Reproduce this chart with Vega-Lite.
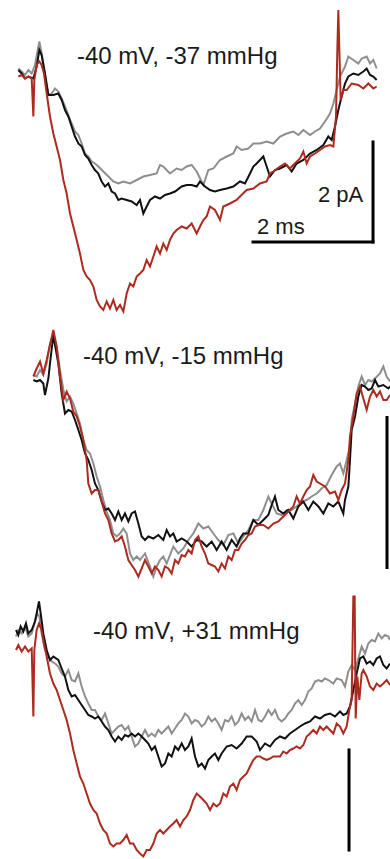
{
"$schema":"https://vega.github.io/schema/vega-lite/v6.json",
"padding":0,"spacing":0,"background":"white",
"config":{"view":{"stroke":null},"concat":{"spacing":0}},
"resolve":{"scale":{"x":"independent","y":"independent"}},
"datasets":{
"p1":[
{"t":0.306,"i":0.07,"k":"s1"},{"t":0.361,"i":0.01,"k":"s1"},{"t":0.417,"i":-0.06,"k":"s1"},{"t":0.472,"i":0.04,"k":"s1"},{"t":0.528,"i":-0.03,"k":"s1"},{"t":0.583,"i":0.14,"k":"s1"},{"t":0.656,"i":0.61,"k":"s1"},{"t":0.694,"i":0.37,"k":"s1"},{"t":0.75,"i":-0.09,"k":"s1"},{"t":0.806,"i":-0.46,"k":"s1"},{"t":0.861,"i":-0.43,"k":"s1"},{"t":0.917,"i":-0.33,"k":"s1"},{"t":0.972,"i":-0.39,"k":"s1"},{"t":1.028,"i":-0.53,"k":"s1"},{"t":1.083,"i":-0.69,"k":"s1"},{"t":1.139,"i":-0.86,"k":"s1"},{"t":1.194,"i":-1.03,"k":"s1"},{"t":1.25,"i":-1.19,"k":"s1"},{"t":1.306,"i":-1.26,"k":"s1"},{"t":1.361,"i":-1.43,"k":"s1"},{"t":1.417,"i":-1.63,"k":"s1"},{"t":1.472,"i":-1.69,"k":"s1"},{"t":1.528,"i":-1.79,"k":"s1"},{"t":1.583,"i":-1.83,"k":"s1"},{"t":1.639,"i":-1.89,"k":"s1"},{"t":1.722,"i":-1.99,"k":"s1"},{"t":1.806,"i":-2.09,"k":"s1"},{"t":1.889,"i":-2.19,"k":"s1"},{"t":1.972,"i":-2.23,"k":"s1"},{"t":2.056,"i":-2.19,"k":"s1"},{"t":2.167,"i":-2.23,"k":"s1"},{"t":2.278,"i":-2.16,"k":"s1"},{"t":2.389,"i":-2.09,"k":"s1"},{"t":2.5,"i":-2.06,"k":"s1"},{"t":2.611,"i":-2.03,"k":"s1"},{"t":2.667,"i":-1.86,"k":"s1"},{"t":2.722,"i":-1.89,"k":"s1"},{"t":2.833,"i":-2.03,"k":"s1"},{"t":2.944,"i":-1.93,"k":"s1"},{"t":3.028,"i":-1.96,"k":"s1"},{"t":3.111,"i":-1.89,"k":"s1"},{"t":3.194,"i":-1.86,"k":"s1"},{"t":3.278,"i":-1.99,"k":"s1"},{"t":3.389,"i":-2.26,"k":"s1"},{"t":3.472,"i":-1.96,"k":"s1"},{"t":3.556,"i":-1.93,"k":"s1"},{"t":3.667,"i":-1.76,"k":"s1"},{"t":3.778,"i":-1.69,"k":"s1"},{"t":3.889,"i":-1.63,"k":"s1"},{"t":3.944,"i":-1.49,"k":"s1"},{"t":4.028,"i":-1.56,"k":"s1"},{"t":4.139,"i":-1.53,"k":"s1"},{"t":4.222,"i":-1.43,"k":"s1"},{"t":4.333,"i":-1.43,"k":"s1"},{"t":4.444,"i":-1.39,"k":"s1"},{"t":4.556,"i":-1.43,"k":"s1"},{"t":4.667,"i":-1.29,"k":"s1"},{"t":4.778,"i":-1.23,"k":"s1"},{"t":4.889,"i":-1.19,"k":"s1"},{"t":4.972,"i":-1.26,"k":"s1"},{"t":5.056,"i":-1.16,"k":"s1"},{"t":5.167,"i":-1.26,"k":"s1"},{"t":5.25,"i":-1.19,"k":"s1"},{"t":5.333,"i":-1.13,"k":"s1"},{"t":5.417,"i":-0.99,"k":"s1"},{"t":5.5,"i":-0.83,"k":"s1"},{"t":5.556,"i":-0.63,"k":"s1"},{"t":5.611,"i":-0.36,"k":"s1"},{"t":5.667,"i":-0.09,"k":"s1"},{"t":5.75,"i":0.11,"k":"s1"},{"t":5.806,"i":0.31,"k":"s1"},{"t":5.889,"i":0.24,"k":"s1"},{"t":5.972,"i":0.17,"k":"s1"},{"t":6.028,"i":0.27,"k":"s1"},{"t":6.111,"i":0.31,"k":"s1"},{"t":6.167,"i":0.17,"k":"s1"},{"t":6.222,"i":0.24,"k":"s1"},{"t":6.278,"i":0.07,"k":"s1"},
{"t":0.306,"i":0.04,"k":"s2"},{"t":0.361,"i":-0.03,"k":"s2"},{"t":0.417,"i":-0.13,"k":"s2"},{"t":0.472,"i":-0.09,"k":"s2"},{"t":0.556,"i":-0.13,"k":"s2"},{"t":0.611,"i":0.11,"k":"s2"},{"t":0.656,"i":0.44,"k":"s2"},{"t":0.694,"i":0.34,"k":"s2"},{"t":0.75,"i":-0.03,"k":"s2"},{"t":0.806,"i":-0.46,"k":"s2"},{"t":0.889,"i":-0.46,"k":"s2"},{"t":0.972,"i":-0.43,"k":"s2"},{"t":1.028,"i":-0.56,"k":"s2"},{"t":1.083,"i":-0.76,"k":"s2"},{"t":1.139,"i":-0.89,"k":"s2"},{"t":1.194,"i":-1.09,"k":"s2"},{"t":1.25,"i":-1.29,"k":"s2"},{"t":1.306,"i":-1.43,"k":"s2"},{"t":1.361,"i":-1.49,"k":"s2"},{"t":1.417,"i":-1.66,"k":"s2"},{"t":1.472,"i":-1.73,"k":"s2"},{"t":1.528,"i":-1.86,"k":"s2"},{"t":1.583,"i":-1.96,"k":"s2"},{"t":1.639,"i":-2.03,"k":"s2"},{"t":1.694,"i":-2.19,"k":"s2"},{"t":1.75,"i":-2.29,"k":"s2"},{"t":1.806,"i":-2.23,"k":"s2"},{"t":1.861,"i":-2.39,"k":"s2"},{"t":1.917,"i":-2.43,"k":"s2"},{"t":1.972,"i":-2.56,"k":"s2"},{"t":2.028,"i":-2.53,"k":"s2"},{"t":2.111,"i":-2.56,"k":"s2"},{"t":2.194,"i":-2.59,"k":"s2"},{"t":2.278,"i":-2.66,"k":"s2"},{"t":2.333,"i":-2.56,"k":"s2"},{"t":2.389,"i":-2.83,"k":"s2"},{"t":2.444,"i":-2.69,"k":"s2"},{"t":2.5,"i":-2.56,"k":"s2"},{"t":2.583,"i":-2.49,"k":"s2"},{"t":2.667,"i":-2.53,"k":"s2"},{"t":2.75,"i":-2.46,"k":"s2"},{"t":2.833,"i":-2.43,"k":"s2"},{"t":2.917,"i":-2.39,"k":"s2"},{"t":3.028,"i":-2.29,"k":"s2"},{"t":3.111,"i":-2.26,"k":"s2"},{"t":3.194,"i":-2.26,"k":"s2"},{"t":3.278,"i":-2.29,"k":"s2"},{"t":3.333,"i":-2.19,"k":"s2"},{"t":3.417,"i":-2.29,"k":"s2"},{"t":3.5,"i":-2.36,"k":"s2"},{"t":3.583,"i":-2.39,"k":"s2"},{"t":3.667,"i":-2.36,"k":"s2"},{"t":3.778,"i":-2.33,"k":"s2"},{"t":3.889,"i":-2.29,"k":"s2"},{"t":4.0,"i":-2.19,"k":"s2"},{"t":4.083,"i":-2.23,"k":"s2"},{"t":4.167,"i":-2.03,"k":"s2"},{"t":4.222,"i":-1.89,"k":"s2"},{"t":4.278,"i":-1.83,"k":"s2"},{"t":4.333,"i":-1.76,"k":"s2"},{"t":4.389,"i":-1.69,"k":"s2"},{"t":4.444,"i":-1.89,"k":"s2"},{"t":4.5,"i":-2.09,"k":"s2"},{"t":4.583,"i":-1.96,"k":"s2"},{"t":4.667,"i":-1.93,"k":"s2"},{"t":4.778,"i":-1.86,"k":"s2"},{"t":4.861,"i":-1.99,"k":"s2"},{"t":4.944,"i":-1.83,"k":"s2"},{"t":5.056,"i":-1.76,"k":"s2"},{"t":5.167,"i":-1.63,"k":"s2"},{"t":5.278,"i":-1.56,"k":"s2"},{"t":5.389,"i":-1.46,"k":"s2"},{"t":5.472,"i":-1.29,"k":"s2"},{"t":5.528,"i":-1.36,"k":"s2"},{"t":5.583,"i":-1.09,"k":"s2"},{"t":5.639,"i":-0.76,"k":"s2"},{"t":5.694,"i":-0.49,"k":"s2"},{"t":5.75,"i":-0.23,"k":"s2"},{"t":5.806,"i":-0.09,"k":"s2"},{"t":5.889,"i":-0.03,"k":"s2"},{"t":5.972,"i":-0.06,"k":"s2"},{"t":6.056,"i":0.01,"k":"s2"},{"t":6.111,"i":0.07,"k":"s2"},{"t":6.167,"i":-0.06,"k":"s2"},{"t":6.222,"i":-0.09,"k":"s2"},{"t":6.278,"i":-0.16,"k":"s2"},
{"t":0.306,"i":-0.09,"k":"s3"},{"t":0.361,"i":-0.06,"k":"s3"},{"t":0.417,"i":-0.13,"k":"s3"},{"t":0.472,"i":-0.09,"k":"s3"},{"t":0.528,"i":-0.13,"k":"s3"},{"t":0.556,"i":-0.89,"k":"s3"},{"t":0.572,"i":-0.16,"k":"s3"},{"t":0.611,"i":0.14,"k":"s3"},{"t":0.656,"i":0.21,"k":"s3"},{"t":0.694,"i":0.14,"k":"s3"},{"t":0.733,"i":-0.03,"k":"s3"},{"t":0.778,"i":-0.43,"k":"s3"},{"t":0.833,"i":-0.89,"k":"s3"},{"t":0.889,"i":-1.23,"k":"s3"},{"t":0.944,"i":-1.49,"k":"s3"},{"t":1.0,"i":-1.76,"k":"s3"},{"t":1.056,"i":-2.16,"k":"s3"},{"t":1.111,"i":-2.43,"k":"s3"},{"t":1.167,"i":-2.83,"k":"s3"},{"t":1.222,"i":-3.09,"k":"s3"},{"t":1.278,"i":-3.36,"k":"s3"},{"t":1.333,"i":-3.63,"k":"s3"},{"t":1.389,"i":-3.96,"k":"s3"},{"t":1.444,"i":-4.09,"k":"s3"},{"t":1.5,"i":-4.16,"k":"s3"},{"t":1.556,"i":-4.29,"k":"s3"},{"t":1.611,"i":-4.56,"k":"s3"},{"t":1.667,"i":-4.69,"k":"s3"},{"t":1.722,"i":-4.76,"k":"s3"},{"t":1.778,"i":-4.59,"k":"s3"},{"t":1.833,"i":-4.73,"k":"s3"},{"t":1.889,"i":-4.56,"k":"s3"},{"t":1.944,"i":-4.76,"k":"s3"},{"t":2.0,"i":-4.66,"k":"s3"},{"t":2.056,"i":-4.79,"k":"s3"},{"t":2.111,"i":-4.43,"k":"s3"},{"t":2.167,"i":-4.23,"k":"s3"},{"t":2.222,"i":-4.29,"k":"s3"},{"t":2.278,"i":-4.09,"k":"s3"},{"t":2.333,"i":-4.03,"k":"s3"},{"t":2.389,"i":-3.96,"k":"s3"},{"t":2.444,"i":-3.76,"k":"s3"},{"t":2.5,"i":-3.89,"k":"s3"},{"t":2.556,"i":-3.69,"k":"s3"},{"t":2.611,"i":-3.49,"k":"s3"},{"t":2.667,"i":-3.63,"k":"s3"},{"t":2.722,"i":-3.43,"k":"s3"},{"t":2.778,"i":-3.56,"k":"s3"},{"t":2.833,"i":-3.36,"k":"s3"},{"t":2.889,"i":-3.23,"k":"s3"},{"t":2.944,"i":-3.16,"k":"s3"},{"t":3.028,"i":-3.09,"k":"s3"},{"t":3.111,"i":-3.13,"k":"s3"},{"t":3.194,"i":-3.03,"k":"s3"},{"t":3.278,"i":-3.23,"k":"s3"},{"t":3.333,"i":-3.09,"k":"s3"},{"t":3.389,"i":-2.96,"k":"s3"},{"t":3.444,"i":-2.89,"k":"s3"},{"t":3.5,"i":-2.69,"k":"s3"},{"t":3.583,"i":-2.76,"k":"s3"},{"t":3.667,"i":-2.96,"k":"s3"},{"t":3.722,"i":-2.69,"k":"s3"},{"t":3.833,"i":-2.63,"k":"s3"},{"t":3.944,"i":-2.56,"k":"s3"},{"t":4.0,"i":-2.49,"k":"s3"},{"t":4.111,"i":-2.36,"k":"s3"},{"t":4.222,"i":-2.33,"k":"s3"},{"t":4.333,"i":-2.23,"k":"s3"},{"t":4.444,"i":-2.19,"k":"s3"},{"t":4.5,"i":-2.03,"k":"s3"},{"t":4.556,"i":-1.99,"k":"s3"},{"t":4.667,"i":-1.89,"k":"s3"},{"t":4.75,"i":-1.83,"k":"s3"},{"t":4.833,"i":-1.93,"k":"s3"},{"t":4.889,"i":-1.86,"k":"s3"},{"t":5.0,"i":-1.73,"k":"s3"},{"t":5.056,"i":-1.59,"k":"s3"},{"t":5.111,"i":-1.83,"k":"s3"},{"t":5.167,"i":-1.69,"k":"s3"},{"t":5.25,"i":-1.63,"k":"s3"},{"t":5.333,"i":-1.56,"k":"s3"},{"t":5.417,"i":-1.49,"k":"s3"},{"t":5.5,"i":-1.46,"k":"s3"},{"t":5.556,"i":-1.49,"k":"s3"},{"t":5.6,"i":-0.89,"k":"s3"},{"t":5.622,"i":0.44,"k":"s3"},{"t":5.639,"i":1.24,"k":"s3"},{"t":5.656,"i":0.44,"k":"s3"},{"t":5.678,"i":-0.56,"k":"s3"},{"t":5.722,"i":-0.36,"k":"s3"},{"t":5.778,"i":-0.36,"k":"s3"},{"t":5.861,"i":-0.23,"k":"s3"},{"t":5.972,"i":-0.26,"k":"s3"},{"t":6.056,"i":-0.33,"k":"s3"},{"t":6.139,"i":-0.23,"k":"s3"},{"t":6.222,"i":-0.33,"k":"s3"},{"t":6.278,"i":-0.29,"k":"s3"}
],
"p2":[
{"t":0.556,"i":0.1,"k":"s1"},{"t":0.611,"i":0.07,"k":"s1"},{"t":0.667,"i":0.2,"k":"s1"},{"t":0.722,"i":0.1,"k":"s1"},{"t":0.778,"i":0.33,"k":"s1"},{"t":0.833,"i":0.73,"k":"s1"},{"t":0.889,"i":0.9,"k":"s1"},{"t":0.944,"i":0.67,"k":"s1"},{"t":1.0,"i":0.2,"k":"s1"},{"t":1.056,"i":-0.2,"k":"s1"},{"t":1.111,"i":-0.43,"k":"s1"},{"t":1.167,"i":-0.33,"k":"s1"},{"t":1.222,"i":-0.47,"k":"s1"},{"t":1.278,"i":-0.67,"k":"s1"},{"t":1.333,"i":-0.87,"k":"s1"},{"t":1.389,"i":-1.2,"k":"s1"},{"t":1.444,"i":-1.4,"k":"s1"},{"t":1.5,"i":-1.47,"k":"s1"},{"t":1.556,"i":-1.67,"k":"s1"},{"t":1.611,"i":-1.93,"k":"s1"},{"t":1.667,"i":-2.13,"k":"s1"},{"t":1.722,"i":-2.4,"k":"s1"},{"t":1.778,"i":-2.63,"k":"s1"},{"t":1.833,"i":-2.8,"k":"s1"},{"t":1.889,"i":-3.07,"k":"s1"},{"t":1.944,"i":-3.13,"k":"s1"},{"t":2.0,"i":-3.07,"k":"s1"},{"t":2.056,"i":-2.97,"k":"s1"},{"t":2.111,"i":-3.07,"k":"s1"},{"t":2.167,"i":-3.47,"k":"s1"},{"t":2.222,"i":-3.6,"k":"s1"},{"t":2.278,"i":-3.53,"k":"s1"},{"t":2.333,"i":-3.6,"k":"s1"},{"t":2.417,"i":-3.47,"k":"s1"},{"t":2.5,"i":-3.73,"k":"s1"},{"t":2.556,"i":-3.93,"k":"s1"},{"t":2.611,"i":-3.73,"k":"s1"},{"t":2.667,"i":-3.6,"k":"s1"},{"t":2.722,"i":-3.53,"k":"s1"},{"t":2.778,"i":-3.67,"k":"s1"},{"t":2.833,"i":-3.5,"k":"s1"},{"t":2.889,"i":-3.33,"k":"s1"},{"t":2.972,"i":-3.47,"k":"s1"},{"t":3.056,"i":-3.37,"k":"s1"},{"t":3.139,"i":-3.2,"k":"s1"},{"t":3.222,"i":-3.07,"k":"s1"},{"t":3.306,"i":-2.87,"k":"s1"},{"t":3.389,"i":-2.97,"k":"s1"},{"t":3.472,"i":-2.93,"k":"s1"},{"t":3.556,"i":-3.07,"k":"s1"},{"t":3.639,"i":-3.2,"k":"s1"},{"t":3.722,"i":-3.3,"k":"s1"},{"t":3.806,"i":-3.1,"k":"s1"},{"t":3.889,"i":-3.07,"k":"s1"},{"t":3.972,"i":-3.27,"k":"s1"},{"t":4.056,"i":-3.13,"k":"s1"},{"t":4.139,"i":-3.0,"k":"s1"},{"t":4.222,"i":-2.8,"k":"s1"},{"t":4.306,"i":-2.8,"k":"s1"},{"t":4.389,"i":-2.6,"k":"s1"},{"t":4.472,"i":-2.33,"k":"s1"},{"t":4.528,"i":-2.47,"k":"s1"},{"t":4.611,"i":-2.67,"k":"s1"},{"t":4.694,"i":-2.7,"k":"s1"},{"t":4.778,"i":-2.6,"k":"s1"},{"t":4.861,"i":-2.6,"k":"s1"},{"t":4.944,"i":-2.53,"k":"s1"},{"t":5.028,"i":-2.43,"k":"s1"},{"t":5.111,"i":-2.4,"k":"s1"},{"t":5.194,"i":-2.33,"k":"s1"},{"t":5.278,"i":-2.27,"k":"s1"},{"t":5.361,"i":-2.17,"k":"s1"},{"t":5.444,"i":-2.1,"k":"s1"},{"t":5.528,"i":-1.9,"k":"s1"},{"t":5.611,"i":-1.73,"k":"s1"},{"t":5.667,"i":-1.67,"k":"s1"},{"t":5.722,"i":-1.87,"k":"s1"},{"t":5.778,"i":-1.6,"k":"s1"},{"t":5.833,"i":-1.33,"k":"s1"},{"t":5.861,"i":-0.8,"k":"s1"},{"t":5.917,"i":-0.47,"k":"s1"},{"t":5.972,"i":-0.13,"k":"s1"},{"t":6.028,"i":0.07,"k":"s1"},{"t":6.083,"i":-0.1,"k":"s1"},{"t":6.139,"i":0.0,"k":"s1"},{"t":6.194,"i":-0.03,"k":"s1"},{"t":6.25,"i":0.03,"k":"s1"},{"t":6.333,"i":0.13,"k":"s1"},{"t":6.389,"i":0.27,"k":"s1"},{"t":6.444,"i":0.07,"k":"s1"},{"t":6.5,"i":-0.03,"k":"s1"},
{"t":0.556,"i":0.0,"k":"s2"},{"t":0.611,"i":-0.03,"k":"s2"},{"t":0.667,"i":0.0,"k":"s2"},{"t":0.722,"i":-0.07,"k":"s2"},{"t":0.75,"i":-0.3,"k":"s2"},{"t":0.778,"i":-0.13,"k":"s2"},{"t":0.806,"i":0.03,"k":"s2"},{"t":0.833,"i":0.33,"k":"s2"},{"t":0.889,"i":0.9,"k":"s2"},{"t":0.917,"i":0.7,"k":"s2"},{"t":0.972,"i":0.33,"k":"s2"},{"t":1.028,"i":-0.27,"k":"s2"},{"t":1.083,"i":-0.67,"k":"s2"},{"t":1.139,"i":-0.6,"k":"s2"},{"t":1.194,"i":-0.63,"k":"s2"},{"t":1.25,"i":-0.8,"k":"s2"},{"t":1.306,"i":-1.0,"k":"s2"},{"t":1.361,"i":-1.2,"k":"s2"},{"t":1.417,"i":-1.47,"k":"s2"},{"t":1.472,"i":-1.6,"k":"s2"},{"t":1.528,"i":-1.8,"k":"s2"},{"t":1.583,"i":-2.07,"k":"s2"},{"t":1.639,"i":-2.2,"k":"s2"},{"t":1.694,"i":-2.43,"k":"s2"},{"t":1.75,"i":-2.6,"k":"s2"},{"t":1.806,"i":-2.57,"k":"s2"},{"t":1.861,"i":-2.67,"k":"s2"},{"t":1.917,"i":-2.8,"k":"s2"},{"t":1.972,"i":-2.63,"k":"s2"},{"t":2.028,"i":-2.8,"k":"s2"},{"t":2.083,"i":-2.67,"k":"s2"},{"t":2.139,"i":-2.83,"k":"s2"},{"t":2.194,"i":-2.67,"k":"s2"},{"t":2.25,"i":-2.63,"k":"s2"},{"t":2.306,"i":-2.87,"k":"s2"},{"t":2.361,"i":-3.13,"k":"s2"},{"t":2.417,"i":-3.2,"k":"s2"},{"t":2.472,"i":-3.13,"k":"s2"},{"t":2.556,"i":-3.17,"k":"s2"},{"t":2.639,"i":-3.1,"k":"s2"},{"t":2.722,"i":-3.2,"k":"s2"},{"t":2.778,"i":-3.0,"k":"s2"},{"t":2.833,"i":-3.13,"k":"s2"},{"t":2.889,"i":-3.07,"k":"s2"},{"t":2.944,"i":-3.23,"k":"s2"},{"t":3.028,"i":-3.17,"k":"s2"},{"t":3.111,"i":-3.23,"k":"s2"},{"t":3.194,"i":-3.33,"k":"s2"},{"t":3.278,"i":-3.2,"k":"s2"},{"t":3.361,"i":-3.23,"k":"s2"},{"t":3.444,"i":-3.33,"k":"s2"},{"t":3.528,"i":-3.23,"k":"s2"},{"t":3.611,"i":-3.4,"k":"s2"},{"t":3.694,"i":-3.23,"k":"s2"},{"t":3.778,"i":-3.4,"k":"s2"},{"t":3.861,"i":-3.2,"k":"s2"},{"t":3.944,"i":-3.33,"k":"s2"},{"t":4.0,"i":-3.17,"k":"s2"},{"t":4.056,"i":-3.07,"k":"s2"},{"t":4.139,"i":-3.07,"k":"s2"},{"t":4.222,"i":-2.8,"k":"s2"},{"t":4.306,"i":-2.9,"k":"s2"},{"t":4.389,"i":-2.8,"k":"s2"},{"t":4.472,"i":-2.7,"k":"s2"},{"t":4.528,"i":-2.5,"k":"s2"},{"t":4.583,"i":-2.33,"k":"s2"},{"t":4.639,"i":-2.6,"k":"s2"},{"t":4.722,"i":-2.67,"k":"s2"},{"t":4.806,"i":-2.6,"k":"s2"},{"t":4.889,"i":-2.77,"k":"s2"},{"t":4.972,"i":-2.53,"k":"s2"},{"t":5.056,"i":-2.43,"k":"s2"},{"t":5.139,"i":-2.6,"k":"s2"},{"t":5.222,"i":-2.43,"k":"s2"},{"t":5.306,"i":-2.53,"k":"s2"},{"t":5.389,"i":-2.67,"k":"s2"},{"t":5.472,"i":-2.47,"k":"s2"},{"t":5.556,"i":-2.53,"k":"s2"},{"t":5.639,"i":-2.43,"k":"s2"},{"t":5.722,"i":-2.67,"k":"s2"},{"t":5.75,"i":-2.4,"k":"s2"},{"t":5.806,"i":-2.13,"k":"s2"},{"t":5.833,"i":-1.6,"k":"s2"},{"t":5.861,"i":-1.0,"k":"s2"},{"t":5.917,"i":-0.73,"k":"s2"},{"t":5.972,"i":-0.33,"k":"s2"},{"t":6.028,"i":-0.1,"k":"s2"},{"t":6.083,"i":-0.13,"k":"s2"},{"t":6.139,"i":-0.2,"k":"s2"},{"t":6.194,"i":-0.17,"k":"s2"},{"t":6.25,"i":0.0,"k":"s2"},{"t":6.306,"i":-0.13,"k":"s2"},{"t":6.389,"i":-0.1,"k":"s2"},{"t":6.472,"i":-0.17,"k":"s2"},{"t":6.5,"i":-0.13,"k":"s2"},
{"t":0.556,"i":0.07,"k":"s3"},{"t":0.611,"i":0.23,"k":"s3"},{"t":0.667,"i":0.37,"k":"s3"},{"t":0.722,"i":0.13,"k":"s3"},{"t":0.778,"i":0.4,"k":"s3"},{"t":0.833,"i":0.7,"k":"s3"},{"t":0.889,"i":1.0,"k":"s3"},{"t":0.944,"i":0.67,"k":"s3"},{"t":1.0,"i":0.07,"k":"s3"},{"t":1.056,"i":-0.4,"k":"s3"},{"t":1.111,"i":-0.23,"k":"s3"},{"t":1.167,"i":-0.37,"k":"s3"},{"t":1.222,"i":-0.63,"k":"s3"},{"t":1.278,"i":-0.73,"k":"s3"},{"t":1.333,"i":-0.93,"k":"s3"},{"t":1.389,"i":-1.2,"k":"s3"},{"t":1.444,"i":-1.6,"k":"s3"},{"t":1.472,"i":-2.07,"k":"s3"},{"t":1.528,"i":-2.27,"k":"s3"},{"t":1.583,"i":-2.2,"k":"s3"},{"t":1.639,"i":-2.2,"k":"s3"},{"t":1.694,"i":-2.43,"k":"s3"},{"t":1.75,"i":-2.67,"k":"s3"},{"t":1.806,"i":-2.8,"k":"s3"},{"t":1.861,"i":-3.07,"k":"s3"},{"t":1.917,"i":-3.23,"k":"s3"},{"t":1.972,"i":-3.2,"k":"s3"},{"t":2.028,"i":-3.13,"k":"s3"},{"t":2.083,"i":-3.33,"k":"s3"},{"t":2.139,"i":-3.6,"k":"s3"},{"t":2.194,"i":-3.7,"k":"s3"},{"t":2.25,"i":-3.8,"k":"s3"},{"t":2.306,"i":-3.93,"k":"s3"},{"t":2.361,"i":-3.77,"k":"s3"},{"t":2.417,"i":-3.6,"k":"s3"},{"t":2.472,"i":-3.73,"k":"s3"},{"t":2.528,"i":-3.87,"k":"s3"},{"t":2.583,"i":-3.73,"k":"s3"},{"t":2.639,"i":-3.8,"k":"s3"},{"t":2.694,"i":-3.93,"k":"s3"},{"t":2.75,"i":-3.73,"k":"s3"},{"t":2.806,"i":-3.77,"k":"s3"},{"t":2.861,"i":-3.87,"k":"s3"},{"t":2.917,"i":-3.6,"k":"s3"},{"t":2.972,"i":-3.67,"k":"s3"},{"t":3.028,"i":-3.5,"k":"s3"},{"t":3.083,"i":-3.53,"k":"s3"},{"t":3.139,"i":-3.4,"k":"s3"},{"t":3.194,"i":-3.47,"k":"s3"},{"t":3.25,"i":-3.2,"k":"s3"},{"t":3.306,"i":-3.13,"k":"s3"},{"t":3.361,"i":-3.33,"k":"s3"},{"t":3.417,"i":-3.47,"k":"s3"},{"t":3.472,"i":-3.67,"k":"s3"},{"t":3.528,"i":-3.7,"k":"s3"},{"t":3.583,"i":-3.73,"k":"s3"},{"t":3.639,"i":-3.83,"k":"s3"},{"t":3.694,"i":-3.67,"k":"s3"},{"t":3.75,"i":-3.77,"k":"s3"},{"t":3.806,"i":-3.53,"k":"s3"},{"t":3.861,"i":-3.6,"k":"s3"},{"t":3.917,"i":-3.4,"k":"s3"},{"t":3.972,"i":-3.4,"k":"s3"},{"t":4.028,"i":-3.27,"k":"s3"},{"t":4.083,"i":-3.2,"k":"s3"},{"t":4.139,"i":-3.1,"k":"s3"},{"t":4.194,"i":-3.07,"k":"s3"},{"t":4.25,"i":-2.93,"k":"s3"},{"t":4.306,"i":-2.9,"k":"s3"},{"t":4.389,"i":-2.9,"k":"s3"},{"t":4.472,"i":-2.97,"k":"s3"},{"t":4.556,"i":-2.87,"k":"s3"},{"t":4.639,"i":-2.83,"k":"s3"},{"t":4.722,"i":-2.73,"k":"s3"},{"t":4.806,"i":-2.63,"k":"s3"},{"t":4.889,"i":-2.53,"k":"s3"},{"t":4.944,"i":-2.33,"k":"s3"},{"t":5.0,"i":-2.47,"k":"s3"},{"t":5.056,"i":-2.33,"k":"s3"},{"t":5.111,"i":-2.2,"k":"s3"},{"t":5.167,"i":-2.13,"k":"s3"},{"t":5.222,"i":-1.9,"k":"s3"},{"t":5.278,"i":-2.03,"k":"s3"},{"t":5.333,"i":-2.07,"k":"s3"},{"t":5.417,"i":-2.13,"k":"s3"},{"t":5.5,"i":-2.27,"k":"s3"},{"t":5.583,"i":-2.23,"k":"s3"},{"t":5.639,"i":-2.4,"k":"s3"},{"t":5.694,"i":-2.2,"k":"s3"},{"t":5.75,"i":-2.07,"k":"s3"},{"t":5.806,"i":-1.6,"k":"s3"},{"t":5.833,"i":-1.13,"k":"s3"},{"t":5.889,"i":-0.73,"k":"s3"},{"t":5.944,"i":-0.27,"k":"s3"},{"t":6.0,"i":-0.13,"k":"s3"},{"t":6.056,"i":-0.37,"k":"s3"},{"t":6.111,"i":-0.6,"k":"s3"},{"t":6.167,"i":-0.33,"k":"s3"},{"t":6.222,"i":-0.2,"k":"s3"},{"t":6.278,"i":-0.33,"k":"s3"},{"t":6.333,"i":-0.23,"k":"s3"},{"t":6.389,"i":-0.4,"k":"s3"},{"t":6.444,"i":-0.4,"k":"s3"},{"t":6.5,"i":-0.3,"k":"s3"}
],
"p3":[
{"t":0.267,"i":0.07,"k":"s1"},{"t":0.306,"i":0.2,"k":"s1"},{"t":0.361,"i":0.13,"k":"s1"},{"t":0.417,"i":0.27,"k":"s1"},{"t":0.472,"i":0.07,"k":"s1"},{"t":0.528,"i":0.13,"k":"s1"},{"t":0.583,"i":0.37,"k":"s1"},{"t":0.622,"i":0.53,"k":"s1"},{"t":0.656,"i":0.47,"k":"s1"},{"t":0.694,"i":0.13,"k":"s1"},{"t":0.75,"i":-0.2,"k":"s1"},{"t":0.806,"i":-0.33,"k":"s1"},{"t":0.861,"i":-0.43,"k":"s1"},{"t":0.917,"i":-0.47,"k":"s1"},{"t":0.972,"i":-0.53,"k":"s1"},{"t":1.028,"i":-0.67,"k":"s1"},{"t":1.083,"i":-0.73,"k":"s1"},{"t":1.139,"i":-0.6,"k":"s1"},{"t":1.194,"i":-0.8,"k":"s1"},{"t":1.25,"i":-0.83,"k":"s1"},{"t":1.306,"i":-0.67,"k":"s1"},{"t":1.361,"i":-0.93,"k":"s1"},{"t":1.417,"i":-1.13,"k":"s1"},{"t":1.472,"i":-1.27,"k":"s1"},{"t":1.528,"i":-1.4,"k":"s1"},{"t":1.583,"i":-1.4,"k":"s1"},{"t":1.639,"i":-1.53,"k":"s1"},{"t":1.694,"i":-1.6,"k":"s1"},{"t":1.75,"i":-1.47,"k":"s1"},{"t":1.806,"i":-1.67,"k":"s1"},{"t":1.861,"i":-1.87,"k":"s1"},{"t":1.917,"i":-1.8,"k":"s1"},{"t":1.972,"i":-1.73,"k":"s1"},{"t":2.028,"i":-1.7,"k":"s1"},{"t":2.083,"i":-1.8,"k":"s1"},{"t":2.139,"i":-1.73,"k":"s1"},{"t":2.194,"i":-1.93,"k":"s1"},{"t":2.25,"i":-2.13,"k":"s1"},{"t":2.306,"i":-2.07,"k":"s1"},{"t":2.361,"i":-1.93,"k":"s1"},{"t":2.417,"i":-1.8,"k":"s1"},{"t":2.472,"i":-1.93,"k":"s1"},{"t":2.528,"i":-1.87,"k":"s1"},{"t":2.583,"i":-1.93,"k":"s1"},{"t":2.639,"i":-1.8,"k":"s1"},{"t":2.694,"i":-1.87,"k":"s1"},{"t":2.75,"i":-1.8,"k":"s1"},{"t":2.806,"i":-1.73,"k":"s1"},{"t":2.861,"i":-1.87,"k":"s1"},{"t":2.917,"i":-1.77,"k":"s1"},{"t":2.972,"i":-1.67,"k":"s1"},{"t":3.028,"i":-1.6,"k":"s1"},{"t":3.083,"i":-1.47,"k":"s1"},{"t":3.139,"i":-1.53,"k":"s1"},{"t":3.194,"i":-1.67,"k":"s1"},{"t":3.25,"i":-1.6,"k":"s1"},{"t":3.306,"i":-1.63,"k":"s1"},{"t":3.361,"i":-1.73,"k":"s1"},{"t":3.417,"i":-1.67,"k":"s1"},{"t":3.472,"i":-1.53,"k":"s1"},{"t":3.528,"i":-1.63,"k":"s1"},{"t":3.583,"i":-1.57,"k":"s1"},{"t":3.639,"i":-1.67,"k":"s1"},{"t":3.694,"i":-1.8,"k":"s1"},{"t":3.75,"i":-1.6,"k":"s1"},{"t":3.806,"i":-1.63,"k":"s1"},{"t":3.861,"i":-1.53,"k":"s1"},{"t":3.917,"i":-1.7,"k":"s1"},{"t":3.972,"i":-1.63,"k":"s1"},{"t":4.028,"i":-1.47,"k":"s1"},{"t":4.083,"i":-1.6,"k":"s1"},{"t":4.139,"i":-1.53,"k":"s1"},{"t":4.194,"i":-1.63,"k":"s1"},{"t":4.25,"i":-1.4,"k":"s1"},{"t":4.306,"i":-1.6,"k":"s1"},{"t":4.361,"i":-1.63,"k":"s1"},{"t":4.417,"i":-1.53,"k":"s1"},{"t":4.472,"i":-1.4,"k":"s1"},{"t":4.528,"i":-1.5,"k":"s1"},{"t":4.583,"i":-1.4,"k":"s1"},{"t":4.639,"i":-1.57,"k":"s1"},{"t":4.694,"i":-1.63,"k":"s1"},{"t":4.75,"i":-1.57,"k":"s1"},{"t":4.806,"i":-1.47,"k":"s1"},{"t":4.861,"i":-1.4,"k":"s1"},{"t":4.917,"i":-1.27,"k":"s1"},{"t":4.972,"i":-1.2,"k":"s1"},{"t":5.028,"i":-1.3,"k":"s1"},{"t":5.083,"i":-1.2,"k":"s1"},{"t":5.139,"i":-1.03,"k":"s1"},{"t":5.194,"i":-0.97,"k":"s1"},{"t":5.25,"i":-0.83,"k":"s1"},{"t":5.306,"i":-0.8,"k":"s1"},{"t":5.361,"i":-0.83,"k":"s1"},{"t":5.417,"i":-0.77,"k":"s1"},{"t":5.472,"i":-0.8,"k":"s1"},{"t":5.556,"i":-0.87,"k":"s1"},{"t":5.611,"i":-0.77,"k":"s1"},{"t":5.694,"i":-0.8,"k":"s1"},{"t":5.75,"i":-0.93,"k":"s1"},{"t":5.806,"i":-0.63,"k":"s1"},{"t":5.861,"i":-0.5,"k":"s1"},{"t":5.917,"i":-0.6,"k":"s1"},{"t":5.972,"i":-0.37,"k":"s1"},{"t":6.028,"i":-0.13,"k":"s1"},{"t":6.083,"i":-0.27,"k":"s1"},{"t":6.139,"i":-0.07,"k":"s1"},{"t":6.194,"i":0.0,"k":"s1"},{"t":6.25,"i":-0.03,"k":"s1"},{"t":6.306,"i":0.13,"k":"s1"},{"t":6.361,"i":0.03,"k":"s1"},{"t":6.417,"i":0.1,"k":"s1"},{"t":6.472,"i":0.07,"k":"s1"},{"t":6.5,"i":0.0,"k":"s1"},
{"t":0.267,"i":0.2,"k":"s2"},{"t":0.306,"i":0.1,"k":"s2"},{"t":0.344,"i":0.27,"k":"s2"},{"t":0.389,"i":0.17,"k":"s2"},{"t":0.433,"i":0.33,"k":"s2"},{"t":0.472,"i":0.13,"k":"s2"},{"t":0.528,"i":0.2,"k":"s2"},{"t":0.583,"i":0.37,"k":"s2"},{"t":0.622,"i":0.6,"k":"s2"},{"t":0.65,"i":0.77,"k":"s2"},{"t":0.678,"i":0.53,"k":"s2"},{"t":0.722,"i":0.13,"k":"s2"},{"t":0.778,"i":-0.2,"k":"s2"},{"t":0.833,"i":-0.4,"k":"s2"},{"t":0.889,"i":-0.33,"k":"s2"},{"t":0.972,"i":-0.4,"k":"s2"},{"t":1.028,"i":-0.57,"k":"s2"},{"t":1.083,"i":-0.73,"k":"s2"},{"t":1.139,"i":-1.0,"k":"s2"},{"t":1.194,"i":-1.13,"k":"s2"},{"t":1.25,"i":-1.1,"k":"s2"},{"t":1.306,"i":-1.2,"k":"s2"},{"t":1.361,"i":-1.3,"k":"s2"},{"t":1.417,"i":-1.4,"k":"s2"},{"t":1.472,"i":-1.5,"k":"s2"},{"t":1.528,"i":-1.53,"k":"s2"},{"t":1.583,"i":-1.57,"k":"s2"},{"t":1.639,"i":-1.53,"k":"s2"},{"t":1.694,"i":-1.63,"k":"s2"},{"t":1.75,"i":-1.73,"k":"s2"},{"t":1.806,"i":-1.8,"k":"s2"},{"t":1.861,"i":-1.93,"k":"s2"},{"t":1.917,"i":-2.03,"k":"s2"},{"t":1.972,"i":-1.93,"k":"s2"},{"t":2.028,"i":-2.0,"k":"s2"},{"t":2.083,"i":-1.9,"k":"s2"},{"t":2.139,"i":-1.93,"k":"s2"},{"t":2.194,"i":-1.87,"k":"s2"},{"t":2.25,"i":-1.93,"k":"s2"},{"t":2.306,"i":-1.87,"k":"s2"},{"t":2.361,"i":-1.93,"k":"s2"},{"t":2.417,"i":-2.0,"k":"s2"},{"t":2.472,"i":-2.07,"k":"s2"},{"t":2.528,"i":-2.2,"k":"s2"},{"t":2.583,"i":-2.13,"k":"s2"},{"t":2.639,"i":-2.33,"k":"s2"},{"t":2.694,"i":-2.53,"k":"s2"},{"t":2.75,"i":-2.47,"k":"s2"},{"t":2.806,"i":-2.27,"k":"s2"},{"t":2.861,"i":-2.33,"k":"s2"},{"t":2.917,"i":-2.13,"k":"s2"},{"t":2.972,"i":-2.2,"k":"s2"},{"t":3.028,"i":-2.07,"k":"s2"},{"t":3.083,"i":-2.2,"k":"s2"},{"t":3.139,"i":-2.13,"k":"s2"},{"t":3.194,"i":-1.97,"k":"s2"},{"t":3.25,"i":-2.33,"k":"s2"},{"t":3.306,"i":-2.53,"k":"s2"},{"t":3.361,"i":-2.47,"k":"s2"},{"t":3.417,"i":-2.57,"k":"s2"},{"t":3.472,"i":-2.4,"k":"s2"},{"t":3.528,"i":-2.33,"k":"s2"},{"t":3.583,"i":-2.27,"k":"s2"},{"t":3.639,"i":-2.4,"k":"s2"},{"t":3.694,"i":-2.27,"k":"s2"},{"t":3.778,"i":-2.13,"k":"s2"},{"t":3.861,"i":-2.1,"k":"s2"},{"t":3.944,"i":-2.17,"k":"s2"},{"t":4.028,"i":-2.07,"k":"s2"},{"t":4.111,"i":-1.93,"k":"s2"},{"t":4.194,"i":-1.93,"k":"s2"},{"t":4.278,"i":-2.03,"k":"s2"},{"t":4.333,"i":-2.2,"k":"s2"},{"t":4.417,"i":-2.07,"k":"s2"},{"t":4.5,"i":-2.13,"k":"s2"},{"t":4.583,"i":-2.0,"k":"s2"},{"t":4.667,"i":-1.93,"k":"s2"},{"t":4.75,"i":-1.97,"k":"s2"},{"t":4.833,"i":-1.87,"k":"s2"},{"t":4.917,"i":-1.8,"k":"s2"},{"t":5.0,"i":-1.73,"k":"s2"},{"t":5.083,"i":-1.67,"k":"s2"},{"t":5.167,"i":-1.63,"k":"s2"},{"t":5.25,"i":-1.53,"k":"s2"},{"t":5.333,"i":-1.57,"k":"s2"},{"t":5.417,"i":-1.5,"k":"s2"},{"t":5.5,"i":-1.47,"k":"s2"},{"t":5.583,"i":-1.53,"k":"s2"},{"t":5.667,"i":-1.43,"k":"s2"},{"t":5.722,"i":-1.5,"k":"s2"},{"t":5.778,"i":-1.47,"k":"s2"},{"t":5.833,"i":-1.33,"k":"s2"},{"t":5.889,"i":-1.0,"k":"s2"},{"t":5.944,"i":-0.67,"k":"s2"},{"t":6.0,"i":-0.37,"k":"s2"},{"t":6.056,"i":-0.33,"k":"s2"},{"t":6.111,"i":-0.47,"k":"s2"},{"t":6.167,"i":-0.43,"k":"s2"},{"t":6.222,"i":-0.5,"k":"s2"},{"t":6.278,"i":-0.37,"k":"s2"},{"t":6.333,"i":-0.33,"k":"s2"},{"t":6.389,"i":-0.5,"k":"s2"},{"t":6.444,"i":-0.57,"k":"s2"},{"t":6.5,"i":-0.47,"k":"s2"},
{"t":0.267,"i":-0.2,"k":"s3"},{"t":0.306,"i":-0.1,"k":"s3"},{"t":0.361,"i":-0.23,"k":"s3"},{"t":0.417,"i":-0.13,"k":"s3"},{"t":0.472,"i":-0.23,"k":"s3"},{"t":0.528,"i":-0.17,"k":"s3"},{"t":0.556,"i":-1.53,"k":"s3"},{"t":0.572,"i":-0.2,"k":"s3"},{"t":0.611,"i":0.2,"k":"s3"},{"t":0.65,"i":0.33,"k":"s3"},{"t":0.694,"i":0.2,"k":"s3"},{"t":0.733,"i":-0.07,"k":"s3"},{"t":0.778,"i":-0.33,"k":"s3"},{"t":0.833,"i":-0.67,"k":"s3"},{"t":0.889,"i":-0.87,"k":"s3"},{"t":0.944,"i":-1.0,"k":"s3"},{"t":1.0,"i":-1.2,"k":"s3"},{"t":1.056,"i":-1.4,"k":"s3"},{"t":1.111,"i":-1.6,"k":"s3"},{"t":1.167,"i":-1.87,"k":"s3"},{"t":1.222,"i":-2.2,"k":"s3"},{"t":1.278,"i":-2.47,"k":"s3"},{"t":1.333,"i":-2.73,"k":"s3"},{"t":1.389,"i":-2.87,"k":"s3"},{"t":1.444,"i":-3.07,"k":"s3"},{"t":1.5,"i":-3.27,"k":"s3"},{"t":1.556,"i":-3.4,"k":"s3"},{"t":1.611,"i":-3.47,"k":"s3"},{"t":1.667,"i":-3.67,"k":"s3"},{"t":1.722,"i":-3.8,"k":"s3"},{"t":1.778,"i":-3.87,"k":"s3"},{"t":1.833,"i":-4.07,"k":"s3"},{"t":1.889,"i":-4.13,"k":"s3"},{"t":1.944,"i":-4.07,"k":"s3"},{"t":2.0,"i":-4.07,"k":"s3"},{"t":2.056,"i":-4.0,"k":"s3"},{"t":2.111,"i":-3.9,"k":"s3"},{"t":2.167,"i":-4.07,"k":"s3"},{"t":2.222,"i":-4.07,"k":"s3"},{"t":2.278,"i":-4.2,"k":"s3"},{"t":2.333,"i":-4.27,"k":"s3"},{"t":2.389,"i":-4.33,"k":"s3"},{"t":2.444,"i":-4.2,"k":"s3"},{"t":2.5,"i":-4.2,"k":"s3"},{"t":2.556,"i":-4.07,"k":"s3"},{"t":2.611,"i":-3.87,"k":"s3"},{"t":2.667,"i":-3.8,"k":"s3"},{"t":2.722,"i":-3.87,"k":"s3"},{"t":2.778,"i":-3.8,"k":"s3"},{"t":2.833,"i":-3.73,"k":"s3"},{"t":2.889,"i":-3.67,"k":"s3"},{"t":2.944,"i":-3.6,"k":"s3"},{"t":3.0,"i":-3.73,"k":"s3"},{"t":3.056,"i":-3.6,"k":"s3"},{"t":3.111,"i":-3.53,"k":"s3"},{"t":3.167,"i":-3.4,"k":"s3"},{"t":3.222,"i":-3.2,"k":"s3"},{"t":3.278,"i":-3.07,"k":"s3"},{"t":3.333,"i":-3.13,"k":"s3"},{"t":3.389,"i":-3.2,"k":"s3"},{"t":3.444,"i":-3.27,"k":"s3"},{"t":3.5,"i":-3.4,"k":"s3"},{"t":3.556,"i":-3.27,"k":"s3"},{"t":3.611,"i":-3.33,"k":"s3"},{"t":3.667,"i":-3.27,"k":"s3"},{"t":3.722,"i":-3.07,"k":"s3"},{"t":3.778,"i":-3.13,"k":"s3"},{"t":3.833,"i":-2.93,"k":"s3"},{"t":3.889,"i":-2.87,"k":"s3"},{"t":3.944,"i":-3.0,"k":"s3"},{"t":4.0,"i":-2.8,"k":"s3"},{"t":4.056,"i":-2.73,"k":"s3"},{"t":4.111,"i":-2.67,"k":"s3"},{"t":4.167,"i":-2.53,"k":"s3"},{"t":4.222,"i":-2.4,"k":"s3"},{"t":4.278,"i":-2.33,"k":"s3"},{"t":4.333,"i":-2.33,"k":"s3"},{"t":4.389,"i":-2.37,"k":"s3"},{"t":4.444,"i":-2.4,"k":"s3"},{"t":4.5,"i":-2.37,"k":"s3"},{"t":4.556,"i":-2.33,"k":"s3"},{"t":4.611,"i":-2.33,"k":"s3"},{"t":4.667,"i":-2.33,"k":"s3"},{"t":4.722,"i":-2.23,"k":"s3"},{"t":4.778,"i":-2.27,"k":"s3"},{"t":4.833,"i":-2.2,"k":"s3"},{"t":4.889,"i":-2.17,"k":"s3"},{"t":4.944,"i":-2.13,"k":"s3"},{"t":5.0,"i":-2.17,"k":"s3"},{"t":5.056,"i":-2.1,"k":"s3"},{"t":5.111,"i":-1.93,"k":"s3"},{"t":5.167,"i":-1.87,"k":"s3"},{"t":5.222,"i":-1.8,"k":"s3"},{"t":5.278,"i":-1.87,"k":"s3"},{"t":5.333,"i":-1.73,"k":"s3"},{"t":5.389,"i":-1.8,"k":"s3"},{"t":5.444,"i":-1.73,"k":"s3"},{"t":5.5,"i":-1.8,"k":"s3"},{"t":5.556,"i":-1.87,"k":"s3"},{"t":5.611,"i":-1.67,"k":"s3"},{"t":5.667,"i":-1.73,"k":"s3"},{"t":5.722,"i":-1.87,"k":"s3"},{"t":5.778,"i":-1.73,"k":"s3"},{"t":5.822,"i":-1.4,"k":"s3"},{"t":5.861,"i":-1.2,"k":"s3"},{"t":5.889,"i":0.87,"k":"s3"},{"t":5.911,"i":0.87,"k":"s3"},{"t":5.928,"i":-1.57,"k":"s3"},{"t":5.956,"i":-0.73,"k":"s3"},{"t":5.989,"i":-1.2,"k":"s3"},{"t":6.028,"i":-0.67,"k":"s3"},{"t":6.056,"i":-0.6,"k":"s3"},{"t":6.111,"i":-0.73,"k":"s3"},{"t":6.167,"i":-0.93,"k":"s3"},{"t":6.222,"i":-1.0,"k":"s3"},{"t":6.278,"i":-0.87,"k":"s3"},{"t":6.333,"i":-0.93,"k":"s3"},{"t":6.389,"i":-0.87,"k":"s3"},{"t":6.444,"i":-0.8,"k":"s3"},{"t":6.5,"i":-0.9,"k":"s3"}
],
"bars":[
{"p":1,"t":6.217,"t2":6.217,"i":-1.4,"i2":-3.4},
{"p":1,"t":4.217,"t2":6.217,"i":-3.4,"i2":-3.4},
{"p":2,"t":6.45,"t2":6.45,"i":-0.75,"i2":-3.75},
{"p":3,"t":5.817,"t2":5.817,"i":-2.2,"i2":-4.2}
],
"labels":[
{"p":1,"kind":"title","t":1.283,"i":0.3,"label":"-40 mV, -37 mmHg"},
{"p":1,"kind":"scale","t":5.3,"i":-2.46,"label":"2 pA"},
{"p":1,"kind":"scale","t":4.283,"i":-3.1,"label":"2 ms"},
{"p":2,"kind":"title","t":1.383,"i":0.47,"label":"-40 mV, -15 mmHg"},
{"p":3,"kind":"title","t":1.55,"i":0.16,"label":"-40 mV, +31 mmHg"}
]
},
"vconcat":[
{"width":390,"height":320,
"encoding":{"x":{"field":"t","type":"quantitative","scale":{"domain":[0,6.5],"nice":false,"zero":false},"axis":null},"y":{"field":"i","type":"quantitative","scale":{"domain":[-4.96,1.44],"nice":false,"zero":false},"axis":null}},
"layer":[
{"data":{"name":"p1"},"mark":{"type":"line","strokeWidth":2,"clip":true},"encoding":{"color":{"field":"k","type":"nominal","scale":{"domain":["s1","s2","s3"],"range":["#8e8e8e","#111111","#ad2a1f"]},"legend":null}}},
{"data":{"name":"bars"},"transform":[{"filter":"datum.p==1"}],"mark":{"type":"rule","strokeWidth":3,"color":"#000000","strokeCap":"square"},"encoding":{"x2":{"field":"t2"},"y2":{"field":"i2"}}},
{"data":{"name":"labels"},"transform":[{"filter":"datum.p==1 && datum.kind=='title'"}],"mark":{"type":"text","align":"left","baseline":"middle","font":"Liberation Sans","fontSize":24,"color":"#1a1a1a"},"encoding":{"text":{"field":"label"}}},
{"data":{"name":"labels"},"transform":[{"filter":"datum.p==1 && datum.kind=='scale'"}],"mark":{"type":"text","align":"left","baseline":"middle","font":"Liberation Sans","fontSize":22,"color":"#1a1a1a"},"encoding":{"text":{"field":"label"}}}
]},
{"width":390,"height":270,
"encoding":{"x":{"field":"t","type":"quantitative","scale":{"domain":[0,6.5],"nice":false,"zero":false},"axis":null},"y":{"field":"i","type":"quantitative","scale":{"domain":[-4.2,1.2],"nice":false,"zero":false},"axis":null}},
"layer":[
{"data":{"name":"p2"},"mark":{"type":"line","strokeWidth":2,"clip":true},"encoding":{"color":{"field":"k","type":"nominal","scale":{"domain":["s1","s2","s3"],"range":["#8e8e8e","#111111","#ad2a1f"]},"legend":null}}},
{"data":{"name":"bars"},"transform":[{"filter":"datum.p==2"}],"mark":{"type":"rule","strokeWidth":3,"color":"#000000","strokeCap":"square"},"encoding":{"x2":{"field":"t2"},"y2":{"field":"i2"}}},
{"data":{"name":"labels"},"transform":[{"filter":"datum.p==2 && datum.kind=='title'"}],"mark":{"type":"text","align":"left","baseline":"middle","font":"Liberation Sans","fontSize":24,"color":"#1a1a1a"},"encoding":{"text":{"field":"label"}}}
]},
{"width":390,"height":269,
"encoding":{"x":{"field":"t","type":"quantitative","scale":{"domain":[0,6.5],"nice":false,"zero":false},"axis":null},"y":{"field":"i","type":"quantitative","scale":{"domain":[-4.38,1.0],"nice":false,"zero":false},"axis":null}},
"layer":[
{"data":{"name":"p3"},"mark":{"type":"line","strokeWidth":2,"clip":true},"encoding":{"color":{"field":"k","type":"nominal","scale":{"domain":["s1","s2","s3"],"range":["#8e8e8e","#111111","#ad2a1f"]},"legend":null}}},
{"data":{"name":"bars"},"transform":[{"filter":"datum.p==3"}],"mark":{"type":"rule","strokeWidth":3,"color":"#000000","strokeCap":"square"},"encoding":{"x2":{"field":"t2"},"y2":{"field":"i2"}}},
{"data":{"name":"labels"},"transform":[{"filter":"datum.p==3 && datum.kind=='title'"}],"mark":{"type":"text","align":"left","baseline":"middle","font":"Liberation Sans","fontSize":24,"color":"#1a1a1a"},"encoding":{"text":{"field":"label"}}}
]}
]
}
